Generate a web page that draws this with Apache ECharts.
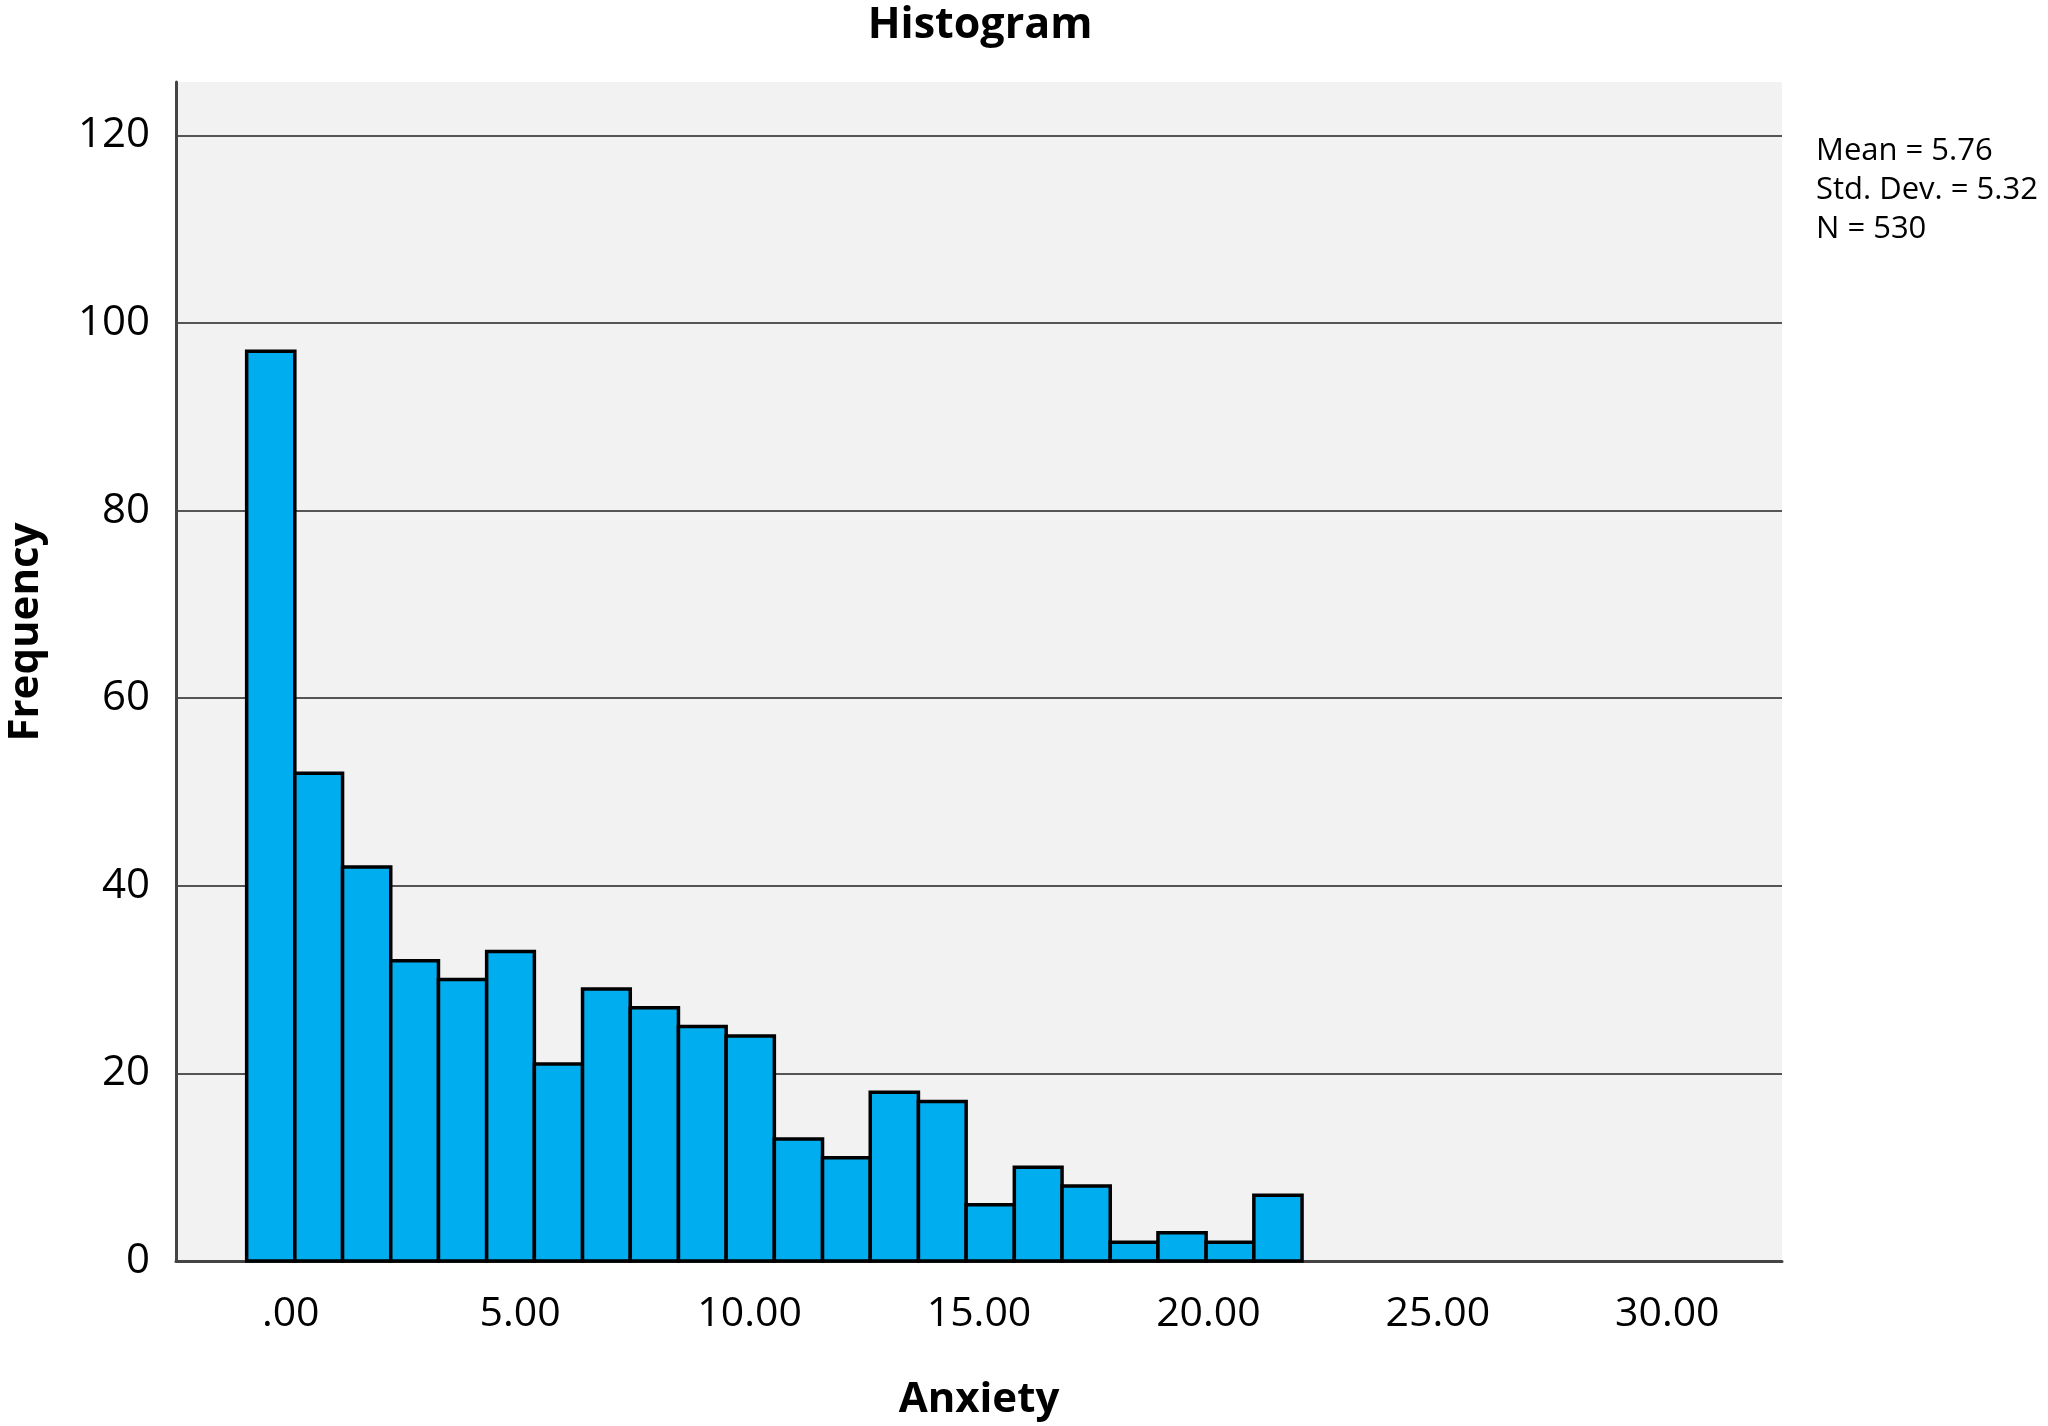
<!DOCTYPE html>
<html>
<head>
<meta charset="utf-8">
<script src="https://cdn.jsdelivr.net/npm/echarts@6/dist/echarts.min.js"></script>
<style>
html,body{margin:0;padding:0;background:#fff;}
#chart{width:2048px;height:1426px;}
</style>
</head>
<body>
<div id="chart"></div>
<script>
// Histogram bin edges (Anxiety) and frequencies
const binEdges = [-0.96, 0.09, 1.13, 2.18, 3.22, 4.27, 5.31, 6.36, 7.40, 8.45, 9.49, 10.54,
                  11.59, 12.63, 13.68, 14.72, 15.77, 16.81, 17.86, 18.90, 19.95, 20.99, 22.04];
const frequencies = [97, 52, 42, 32, 30, 33, 21, 29, 27, 25, 24, 13, 11, 18, 17, 6, 10, 8, 2, 3, 2, 7];
const xTickValues = [0, 5, 10, 15, 20, 25, 30];
const xTickLabels = ['.00', '5.00', '10.00', '15.00', '20.00', '25.00', '30.00'];
const statsLines = ['Mean = 5.76', 'Std. Dev. = 5.32', 'N = 530'];

const barData = frequencies.map((f, i) => [binEdges[i], binEdges[i + 1], f]);

const chart = echarts.init(document.getElementById('chart'), null, {renderer: 'canvas'});
const FONT = '"Open Sans", "DejaVu Sans", sans-serif';

chart.setOption({
  backgroundColor: '#ffffff',
  animation: false,
  title: {
    text: 'Histogram',
    left: 975,
    textAlign: 'center',
    top: -2,
    textStyle: {fontFamily: FONT, fontWeight: 'bold', fontSize: 43, color: '#000', lineHeight: 46}
  },
  grid: {
    left: 176, right: 266, top: 82, bottom: 163,
    show: true, backgroundColor: '#f2f2f2', borderWidth: 0
  },
  xAxis: {
    type: 'value',
    min: -2.5,
    max: 32.5,
    name: 'Anxiety',
    nameLocation: 'middle',
    nameGap: 118,
    nameTextStyle: {fontFamily: FONT, fontWeight: 'bold', fontSize: 42, color: '#000'},
    axisLine: {show: true, onZero: false, lineStyle: {color: '#444', width: 3}},
    axisTick: {show: false},
    splitLine: {show: false},
    axisLabel: {
      customValues: xTickValues,
      formatter: v => xTickLabels[xTickValues.indexOf(v)],
      fontFamily: FONT, fontSize: 41, color: '#000', margin: 33
    }
  },
  yAxis: {
    type: 'value',
    min: 0,
    max: 125.7,
    interval: 20,
    axisLine: {show: true, onZero: false, lineStyle: {color: '#444', width: 3}},
    axisTick: {show: false},
    splitLine: {show: true, showMaxLine: false, showMinLine: false, lineStyle: {color: '#555', width: 2}},
    axisLabel: {
      showMaxLabel: false,
      fontFamily: FONT, fontSize: 42, color: '#000', margin: 26
    }
  },
  graphic: [
    {
      type: 'text',
      x: 26, y: 632,
      rotation: Math.PI / 2,
      style: {
        text: 'Frequency', fontFamily: FONT, fontWeight: 'bold', fontSize: 42,
        fill: '#000', align: 'center', verticalAlign: 'middle'
      }
    },
    {
      type: 'text',
      x: 1816, y: 132,
      style: {
        text: statsLines.join('\n'), fontFamily: FONT, fontSize: 31, lineHeight: 39,
        fill: '#000', align: 'left', verticalAlign: 'top'
      }
    }
  ],
  series: [{
    type: 'custom',
    data: barData,
    encode: {x: [0, 1], y: 2},
    renderItem: function (params, api) {
      const x0 = api.value(0), x1 = api.value(1), y = api.value(2);
      const pTop = api.coord([x0, y]);
      const pBot = api.coord([x1, 0]);
      return {
        type: 'rect',
        shape: {x: pTop[0], y: pTop[1], width: pBot[0] - pTop[0], height: pBot[1] - pTop[1]},
        style: {fill: '#00aeef', stroke: '#000', lineWidth: 3.5}
      };
    }
  }]
});
</script>
</body>
</html>
